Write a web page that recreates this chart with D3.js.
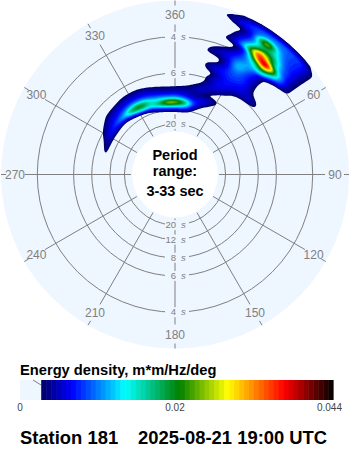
<!DOCTYPE html>
<html>
<head>
<meta charset="utf-8">
<script src="https://cdn.jsdelivr.net/npm/d3@7"></script>
<style>
  html, body { margin: 0; padding: 0; background: #fff; }
  svg { display: block; }
  text { font-family: "Liberation Sans", Arial, sans-serif; }
</style>
</head>
<body>
<svg id="chart" width="350" height="450"></svg>
<script>
var directions = [-80, -75, -70, -65, -60, -55, -50, -45, -40, -35, -30, -25, -20, -15, -10, -5, 0, 5, 10, 15, 20, 25, 30, 35, 40, 45, 50, 55, 60]
var frequencies = [.07, .08, .09, .10, .11, .12, .13, .14, .15, .16, .17, .18, .19, .20, .21, .22, .23, .24, .25, .26, .27, .28, .29, .30, .31, .32, .33]

// energy density in 1e-4 m*m/Hz/deg, one row per frequency, one column per direction
var energy = [
  [0,  0,  0,  0,  0,  0,  0,  0,  0,  0,  0,  0,  0,  0,  0,  0,  0,  0,  0,  0,  0,  0,  0,  0,  0,  0,  0,  0,  0],
  [0,  0,  0,  0,  0,  0,  0,  0,  0,  0,  0,  0,  5, 15, 25, 35, 38, 40, 35, 15,  0,  0,  0,  0,  0,  0,  0,  0,  0],
  [0,  0,  0,  0,  0,  0,  0,  0,  0,  5, 10, 28, 50, 90,110,130,130,130,110, 50, 15,  0,  0,  0,  0,  0,  0,  0,  0],
  [0, 30, 45, 50, 50, 50, 45, 40, 50, 90,140,170,160,190,250,310,300,260,180, 90, 50, 12,  0,  0,  0,  0,  0,  0,  0],
  [0, 10, 25, 40, 65, 80, 95,120,150,220,250,240,180,150,140,130,130,110, 90, 70, 80, 50, 12,  0,  0,  0,  0,  0,  0],
  [0,  0,  0, 15, 42, 55, 70, 80, 95,120,130,120,100, 85, 75, 70, 70, 65, 55, 40, 50, 60, 40,  0,  0,  0,  0,  0,  0],
  [0,  0,  0,  0, 20, 38, 55, 60, 65, 70, 70, 70, 65, 55, 45, 40, 40, 42, 45, 55, 30, 20, 25,  0,  0,  0,  0,  0,  0],
  [0,  0,  0,  0,  0, 12, 35, 40, 45, 50, 50, 50, 45, 35, 28, 25, 25, 28, 35, 55, 65, 40, 18,  0,  0,  0,  0,  0,  0],
  [0,  0,  0,  0,  0,  0,  5,  8, 15, 25, 25, 25, 15,  5,  0,  0,  0,  0, 15, 30, 55, 65, 50, 20,  0,  0,  0,  0,  0],
  [0,  0,  0,  0,  0,  0,  0,  0,  0,  0,  0,  0,  0,  0,  0,  0,  0,  0,  5, 15, 45, 70, 65, 40, 22, 12,  0,  0,  0],
  [0,  0,  0,  0,  0,  0,  0,  0,  0,  0,  0,  0,  0,  0,  0,  0,  0,  0,  0, 15, 45, 70, 75, 65, 55, 50, 30,  0,  0],
  [0,  0,  0,  0,  0,  0,  0,  0,  0,  0,  0,  0,  0,  0,  0,  0,  0,  0,  0,  5, 25, 65, 80, 70, 60, 60, 30,  0,  0],
  [0,  0,  0,  0,  0,  0,  0,  0,  0,  0,  0,  0,  0,  0,  0,  0,  0,  0,  0, 25, 60, 75, 90, 85, 65, 22,  0,  0,  0],
  [0,  0,  0,  0,  0,  0,  0,  0,  0,  0,  0,  0,  0,  0,  0,  0,  0,  0,  0, 30, 60, 75,100, 90, 65, 10,  0,  0,  0],
  [0,  0,  0,  0,  0,  0,  0,  0,  0,  0,  0,  0,  0,  0,  0,  0,  0,  0,  0,  5, 15, 60,120, 90, 60,  8,  0,  0,  0],
  [0,  0,  0,  0,  0,  0,  0,  0,  0,  0,  0,  0,  0,  0,  0,  0,  0,  0,  0, 20, 25, 55,150,100, 65,  8,  0,  0,  0],
  [0,  0,  0,  0,  0,  0,  0,  0,  0,  0,  0,  0,  0,  0,  0,  0,  0,  0,  0, 40, 55, 70,130,120, 70, 10,  0,  0,  0],
  [0,  0,  0,  0,  0,  0,  0,  0,  0,  0,  0,  0,  0,  0,  0,  0,  0,  0,  0, 25, 50, 65,100,130,190, 60, 15,  0,  0],
  [0,  0,  0,  0,  0,  0,  0,  0,  0,  0,  0,  0,  0,  0,  0,  0,  0,  0,  0,  5, 20, 40, 90,170,310,140, 70, 22,  0],
  [0,  0,  0,  0,  0,  0,  0,  0,  0,  0,  0,  0,  0,  0,  0,  0,  0,  0,  0,  0, 10, 20, 70,340,480,190, 75, 22,  0],
  [0,  0,  0,  0,  0,  0,  0,  0,  0,  0,  0,  0,  0,  0,  0,  0,  0,  0,  0,  0, 32, 70,190,430,250,120, 75, 22,  0],
  [0,  0,  0,  0,  0,  0,  0,  0,  0,  0,  0,  0,  0,  0,  0,  0,  0,  0,  0,  0, 15, 60,130,250,230,110, 75, 22,  0],
  [0,  0,  0,  0,  0,  0,  0,  0,  0,  0,  0,  0,  0,  0,  0,  0,  0,  0,  0,  0,  5, 50, 90,200,170, 90, 75, 22,  0],
  [0,  0,  0,  0,  0,  0,  0,  0,  0,  0,  0,  0,  0,  0,  0,  0,  0,  0,  0,  0,  5, 22, 80,350,130, 90, 80, 22,  0],
  [0,  0,  0,  0,  0,  0,  0,  0,  0,  0,  0,  0,  0,  0,  0,  0,  0,  0,  0,  0, 28, 70, 90,130,110, 90, 80, 22,  0],
  [0,  0,  0,  0,  0,  0,  0,  0,  0,  0,  0,  0,  0,  0,  0,  0,  0,  0,  0, 22, 45, 75, 95,100,105,100, 85, 22,  0],
  [0,  0,  0,  0,  0,  0,  0,  0,  0,  0,  0,  0,  0,  0,  0,  0,  0,  0,  0, 10, 15, 30, 30, 30, 30, 30, 30, 12,  0]
]

var periodTicks = [4, 6, 8, 12, 20]
var spokeAngles = [0, 30, 60, 90, 120, 150, 180, 210, 240, 270, 300, 330]
var spokeLabels = ['360', '30', '60', '90', '120', '150', '180', '210', '240', '270', '300', '330']
var periodLines = ['Period', 'range:', '3-33 sec']
var colorStops = [30, 70, 145, 222, 290, 370, 440]
var colorRange = ['#000070', '#0000ff', '#00ffff', '#008000', '#ffff00', '#ff0000', '#000000']
var barTicks = [{label: '0', x: 20, anchor: 'middle'}, {label: '0.02', x: 175, anchor: 'middle'}, {label: '0.044', x: 342, anchor: 'end'}]

var grey = '#808080'
  , paleBlue = '#eef6ff'
  , cx = 175
  , cy = 174.5
  , zoomFactor = 4

var svg = d3.select('#chart')

var radius = d3.scaleLinear().domain([1 / 33, 1 / 3]).range([42, 174])
var color = d3.scaleLinear().domain(colorStops).range(colorRange)

var polar = function(dir, r) {
  var a = dir * Math.PI / 180
  return [cx + r * Math.sin(a), cy - r * Math.cos(a)]
}

// the picture is smooth, the table is not: resample it only for drawing
var resample = function(rows) {
  var h = rows.length, w = rows[0].length
    , width = (w - 1) * zoomFactor + 1, height = (h - 1) * zoomFactor + 1
    , data = new Float64Array(width * height)
  d3.range(height).forEach(function(j) {
    var fy = j / zoomFactor, y0 = Math.min(Math.floor(fy), h - 2), ty = fy - y0
    d3.range(width).forEach(function(i) {
      var fx = i / zoomFactor, x0 = Math.min(Math.floor(fx), w - 2), tx = fx - x0
      data[j * width + i] =
        (rows[y0][x0] * (1 - tx) + rows[y0][x0 + 1] * tx) * (1 - ty) +
        (rows[y0 + 1][x0] * (1 - tx) + rows[y0 + 1][x0 + 1] * tx) * ty
    })
  })
  return d3.blur2({data: data, width: width, height: height}, 1)
}

// disc
svg.append('circle').attr('cx', cx).attr('cy', cy).attr('r', 174).attr('fill', paleBlue)

// period rings
svg.selectAll('circle.ring').data(periodTicks).enter().append('circle')
  .attr('class', 'ring')
  .attr('cx', cx).attr('cy', cy)
  .attr('r', function(d) { return radius(1 / d) })
  .attr('fill', 'none').attr('stroke', grey)

// spokes with a short tick at the rim
spokeAngles.forEach(function(a, i) {
  var from = polar(a, 44), to = polar(a, 150), t0 = polar(a, 169), t1 = polar(a, 174)
  svg.append('line').attr('x1', from[0]).attr('y1', from[1]).attr('x2', to[0]).attr('y2', to[1]).attr('stroke', grey)
  svg.append('line').attr('x1', t0[0]).attr('y1', t0[1]).attr('x2', t1[0]).attr('y2', t1[1]).attr('stroke', grey)
  var p = polar(a, 160)
  svg.append('text').attr('x', p[0]).attr('y', p[1] + 4)
    .attr('text-anchor', 'middle').attr('font-size', 12).attr('fill', grey)
    .text(spokeLabels[i])
})

// period labels, on the vertical spoke above and below the centre
periodTicks.forEach(function(d) {
  [-1, 1].forEach(function(side) {
    var y = cy + side * radius(1 / d)
    svg.append('rect').attr('x', 165).attr('y', y - 5).attr('width', 24).attr('height', 10).attr('fill', paleBlue)
    svg.append('text').attr('x', 176).attr('y', y + 3)
      .attr('text-anchor', 'end').attr('font-size', 9.5).attr('fill', grey).text(d)
    svg.append('text').attr('x', 181).attr('y', y + 3)
      .attr('font-size', 9.5).attr('font-style', 'italic').attr('fill', grey).text('s')
  })
})

// spectrum, contoured on the direction / frequency grid
var levels = d3.range(30, 440, 7)
var grid = resample(energy)
var contours = d3.contours()
  .size([grid.width, grid.height])
  .thresholds(levels)(Array.from(grid.data))

var dirAt = d3.scaleLinear().domain([.5, grid.width - .5]).range([directions[0], directions[directions.length - 1]])
var freqAt = d3.scaleLinear().domain([.5, grid.height - .5]).range([frequencies[0], frequencies[frequencies.length - 1]])

var path = d3.geoPath(d3.geoTransform({
  point: function(x, y) {
    var p = polar(dirAt(x), radius(freqAt(y)))
    this.stream.point(p[0], p[1])
  }
}))

svg.append('g').selectAll('path').data(contours).enter().append('path')
  .attr('d', path)
  .attr('fill', function(d) { return color(d.value) })

// centre
svg.append('circle').attr('cx', cx).attr('cy', cy).attr('r', 43).attr('fill', '#fff')
svg.selectAll('text.period').data(periodLines).enter().append('text')
  .attr('class', 'period')
  .attr('x', cx)
  .attr('y', function(d, i) { return [160, 176, 196][i] })
  .attr('text-anchor', 'middle').attr('font-size', 14.5).attr('font-weight', 'bold').text(function(d) { return d })

// colour bar
svg.append('text').attr('x', 20).attr('y', 375).attr('font-size', 14.7).attr('font-weight', 'bold').text('Energy density, m*m/Hz/deg')
var barX = d3.scaleLinear().domain([0, 440]).range([20, 331])
svg.append('rect').attr('x', 20).attr('y', 380).attr('width', 21).attr('height', 20).attr('fill', paleBlue)
svg.append('line').attr('x1', 33).attr('y1', 380).attr('x2', 41).attr('y2', 385).attr('stroke', grey)
svg.selectAll('rect.swatch').data(levels).enter().append('rect')
  .attr('class', 'swatch')
  .attr('x', function(d) { return barX(d) })
  .attr('y', 380)
  .attr('width', barX(7) - barX(0) + .5)
  .attr('height', 20)
  .attr('fill', function(d) { return color(d) })
svg.selectAll('text.barTick').data(barTicks).enter().append('text')
  .attr('class', 'barTick')
  .attr('x', function(d) { return d.x })
  .attr('y', 411)
  .attr('text-anchor', function(d) { return d.anchor })
  .attr('font-size', 10).attr('fill', '#444').text(function(d) { return d.label })

// footer
svg.append('text').attr('x', 20).attr('y', 444).attr('font-size', 18.4).attr('font-weight', 'bold').text('Station 181')
svg.append('text').attr('x', 138).attr('y', 444).attr('font-size', 18.4).attr('font-weight', 'bold').text('2025-08-21 19:00 UTC')
</script>
</body>
</html>
